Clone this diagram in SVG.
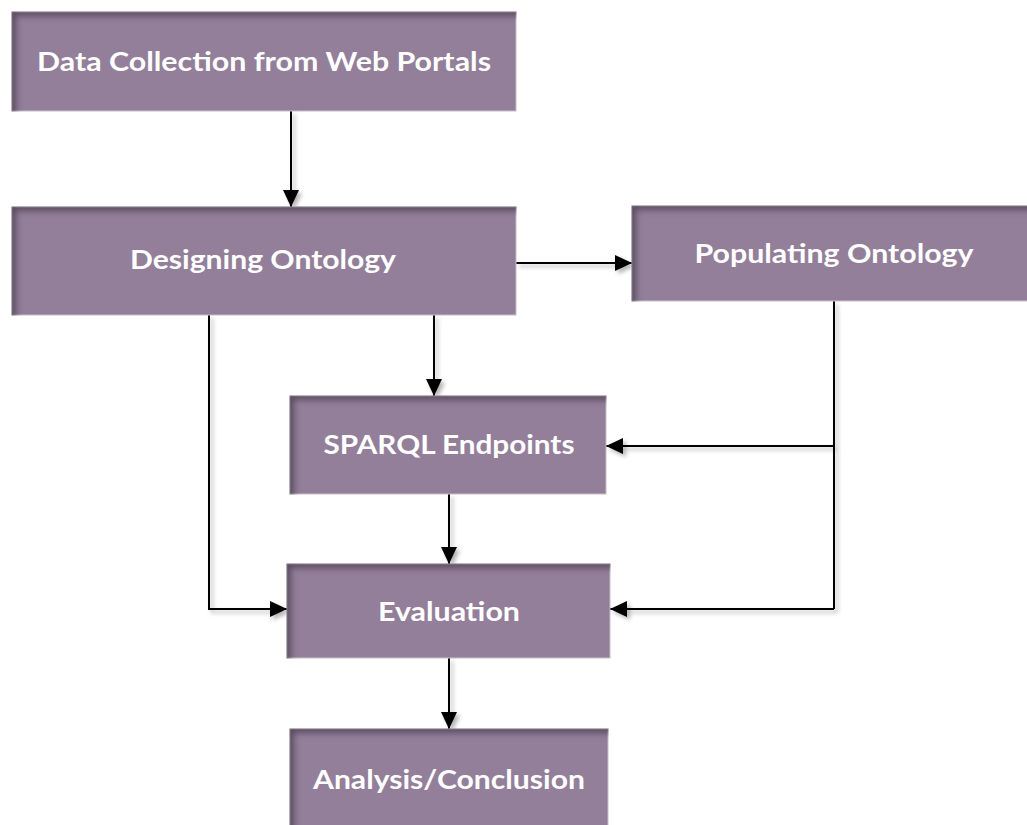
<svg xmlns="http://www.w3.org/2000/svg" width="1027" height="825" viewBox="0 0 1027 825">
<style>
.box{fill:#937f9a;stroke:#c8c2ca;stroke-width:1;filter:url(#inner)}
.lbl{font-family:Lato,"Open Sans","Liberation Sans",sans-serif;font-weight:bold;font-size:26px;fill:#ffffff;text-anchor:middle}
.con{fill:none;stroke:#000;stroke-width:2;marker-end:url(#arr)}
.con2{fill:none;stroke:#000;stroke-width:2}
</style>
<defs>
<marker id="arr" markerUnits="userSpaceOnUse" markerWidth="17" markerHeight="18" viewBox="0 0 17 18" refX="17" refY="9" orient="auto">
<path d="M0,1 L17,9 L0,17 Z" fill="#000"/>
</marker>
<filter id="inner" x="-5%" y="-5%" width="110%" height="110%">
<feFlood flood-color="#3c2c40" flood-opacity="0.75" result="f"/>
<feOffset in="SourceAlpha" dx="5" dy="5" result="o"/>
<feComposite in="f" in2="o" operator="out" result="e"/>
<feGaussianBlur in="e" stdDeviation="3" result="b"/>
<feComposite in="b" in2="SourceAlpha" operator="in" result="s"/>
<feMerge><feMergeNode in="SourceGraphic"/><feMergeNode in="s"/></feMerge>
</filter>
<filter id="ds" x="-20%" y="-20%" width="140%" height="140%">
<feGaussianBlur in="SourceAlpha" stdDeviation="2"/>
<feOffset dx="3" dy="3" result="b"/>
<feComponentTransfer><feFuncA type="linear" slope="0.3"/></feComponentTransfer>
<feMerge><feMergeNode/><feMergeNode in="SourceGraphic"/></feMerge>
</filter>
</defs>
<rect width="1027" height="825" fill="#fff"/>
<g id="connectors" filter="url(#ds)">
<path class="con" d="M291,111 L291,207"/>
<path class="con" d="M516,263 L632,263"/>
<path class="con" d="M209,315 L209,609 L287,609"/>
<path class="con" d="M434,315 L434,396"/>
<path class="con2" d="M834,301 L834,609"/>
<path class="con" d="M834,446 L606,446"/>
<path class="con" d="M834,609 L610,609"/>
<path class="con" d="M449,494 L449,564"/>
<path class="con" d="M449,658 L449,729"/>
</g>
<g id="n1"><rect class="box" x="12" y="12" width="504" height="99"/><text class="lbl" x="264" y="71" textLength="454" lengthAdjust="spacingAndGlyphs">Data Collection from Web Portals</text></g>
<g id="n2"><rect class="box" x="12" y="207" width="504" height="108"/><text class="lbl" x="263" y="269" textLength="266" lengthAdjust="spacingAndGlyphs">Designing Ontology</text></g>
<g id="n3"><rect class="box" x="632" y="206" width="410" height="95"/><text class="lbl" x="834" y="263" textLength="279" lengthAdjust="spacingAndGlyphs">Populating Ontology</text></g>
<g id="n4"><rect class="box" x="290" y="396" width="316" height="98"/><text class="lbl" x="449" y="454" textLength="251" lengthAdjust="spacingAndGlyphs">SPARQL Endpoints</text></g>
<g id="n5"><rect class="box" x="287" y="564" width="323" height="94"/><text class="lbl" x="449" y="621" textLength="142" lengthAdjust="spacingAndGlyphs">Evaluation</text></g>
<g id="n6"><rect class="box" x="290" y="729" width="318" height="110"/><text class="lbl" x="449" y="789" textLength="272" lengthAdjust="spacingAndGlyphs">Analysis/Conclusion</text></g>
</svg>
